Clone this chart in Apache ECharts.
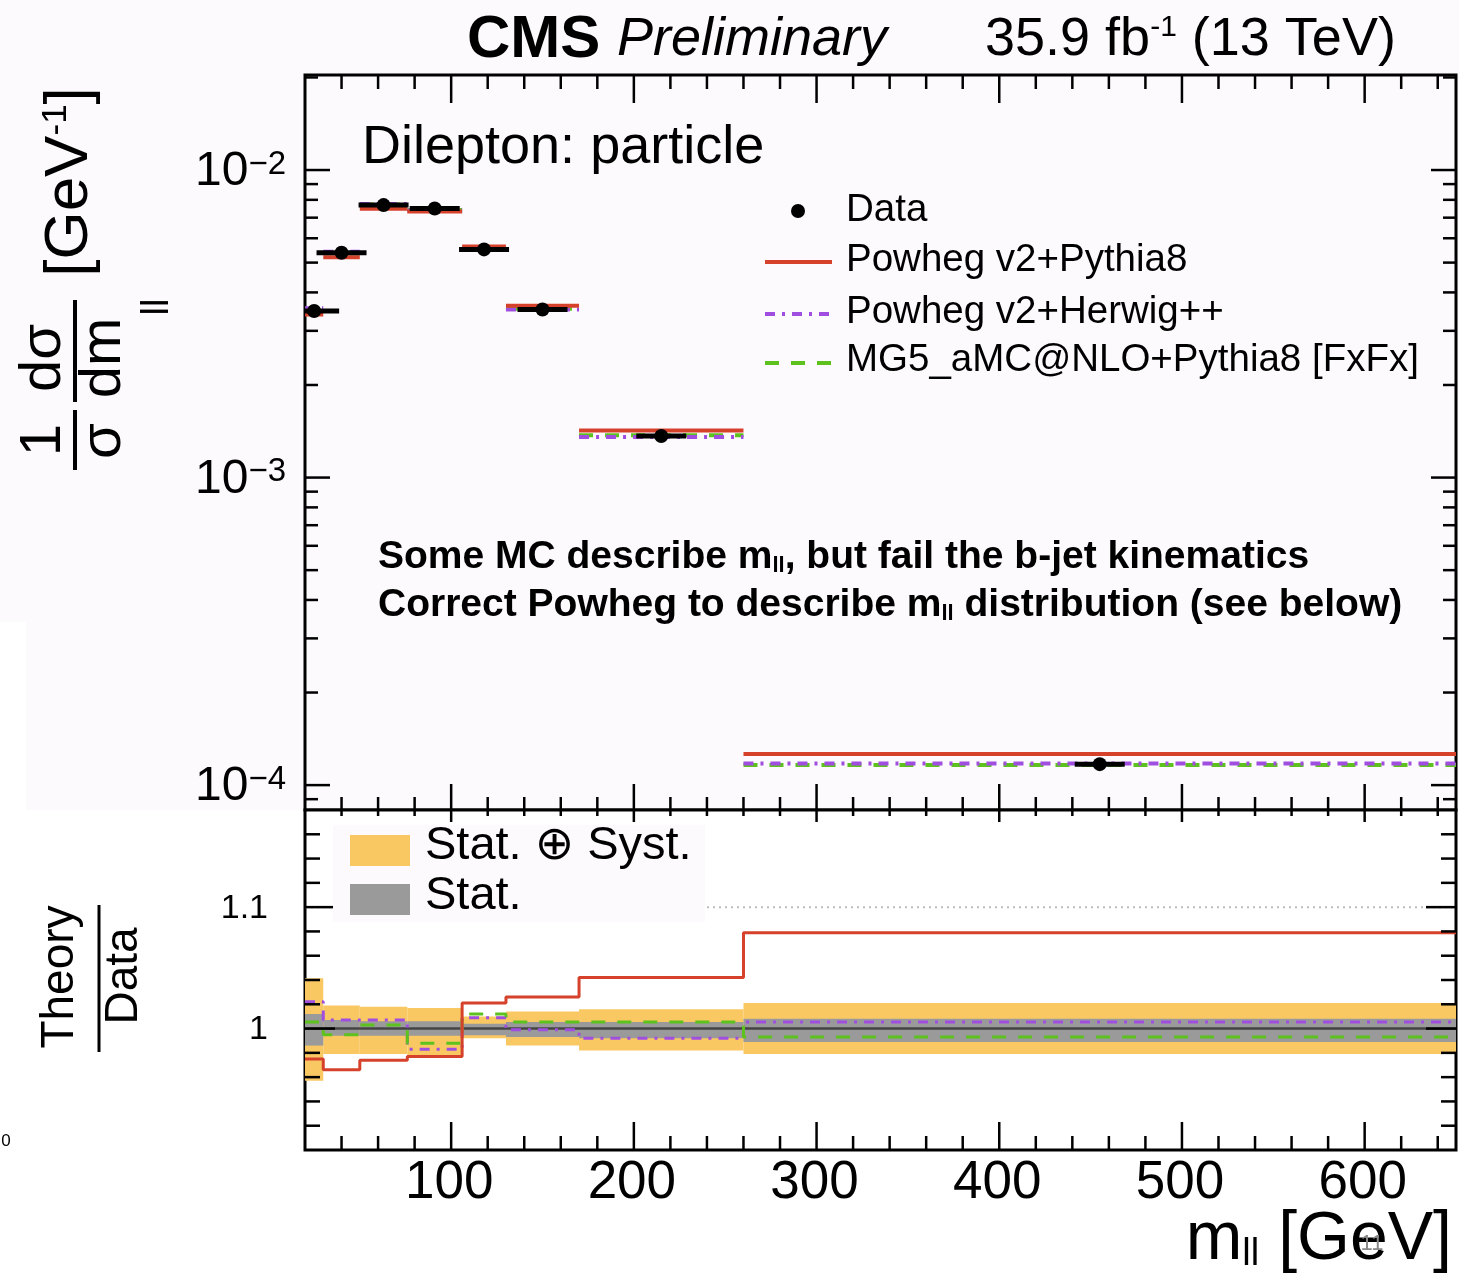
<!DOCTYPE html>
<html>
<head>
<meta charset="utf-8">
<script src="https://cdn.jsdelivr.net/npm/echarts@6/dist/echarts.min.js"></script>
<style>
html,body{margin:0;padding:0;background:#ffffff;}
#bg1{position:absolute;left:0;top:0;width:1459px;height:622px;background:#fcfafd;}
#bg2{position:absolute;left:26px;top:622px;width:1433px;height:188px;background:#fcfafd;}
#chart{position:absolute;left:0;top:0;width:1459px;height:1288px;}
</style>
</head>
<body>
<div id="bg1"></div><div id="bg2"></div>
<div id="chart"></div>
<script>
// ---------------- data ----------------
const binEdges = [20, 30, 50, 76, 106, 130, 170, 260, 650];
const dataValues = [0.00348, 0.00538, 0.00769, 0.00750, 0.00552, 0.00352, 0.001365, 0.000117];
const powhegPythiaValues = [0.00339, 0.00520, 0.00749, 0.00733, 0.00564, 0.00362, 0.001422, 0.0001262];
const powhegHerwigValues = [0.00355, 0.00542, 0.00775, 0.00738, 0.00557, 0.00352, 0.001354, 0.0001176];
const mg5Values = [0.00350, 0.00536, 0.00772, 0.00742, 0.00559, 0.00354, 0.001373, 0.0001162];

const powhegPythiaRatio = [0.975, 0.966, 0.974, 0.977, 1.021, 1.026, 1.042, 1.079];
const powhegHerwigRatio = [1.022, 1.007, 1.007, 0.983, 1.009, 0.999, 0.992, 1.0055];
const mg5Ratio = [1.0055, 0.995, 1.003, 0.988, 1.012, 1.0055, 1.0055, 0.993];
const totalUp = [1.0415, 1.019, 1.018, 1.017, 1.010, 1.014, 1.016, 1.021];
const totalDown = [0.957, 0.979, 0.979, 0.978, 0.992, 0.986, 0.982, 0.979];
const statUp = [1.012, 1.007, 1.006, 1.006, 1.004, 1.0055, 1.0055, 1.008];
const statDown = [0.986, 0.994, 0.994, 0.994, 0.9945, 0.993, 0.992, 0.989];

const xMajorTicks = [100, 200, 300, 400, 500, 600];
const xTickLabels = ['100', '200', '300', '400', '500', '600'];
const xMinorTicks = [40, 60, 80, 120, 140, 160, 180, 220, 240, 260, 280, 320, 340, 360, 380, 420, 440, 460, 480, 520, 540, 560, 580, 620, 640];
const yTopMajorTicks = [1e-4, 1e-3, 1e-2];
const yTopTickExponents = ['\u22124', '\u22123', '\u22122'];
const yTopMinorTicks = [9e-5, 2e-4, 3e-4, 4e-4, 5e-4, 6e-4, 7e-4, 8e-4, 9e-4, 2e-3, 3e-3, 4e-3, 5e-3, 6e-3, 7e-3, 8e-3, 9e-3, 2e-2];
const yRatioMajorTicks = [1.0, 1.1];
const yRatioTickLabels = ['1', '1.1'];
const yRatioMinorTicks = [0.92, 0.94, 0.96, 0.98, 1.02, 1.04, 1.06, 1.08, 1.12, 1.14, 1.16];

const xMin = 20, xMax = 650;
const topYMin = 8.3e-5, topYMax = 0.02037;
const ratioMin = 0.9, ratioMax = 1.18;

// ---------------- styles ----------------
const FONT = '"Liberation Sans", "DejaVu Sans", Arial, sans-serif';
const RED = '#d6412c', PURPLE = '#a04ee0', GREEN = '#5dc21e';
const ORANGE = '#f9c863', GRAY = '#9a9a9a';
const DASH_HERWIG = [10, 7, 3, 7];
const DASH_MG5 = [14, 12];

const hiddenAxis = {axisLine: {show: false}, axisTick: {show: false}, axisLabel: {show: false}, splitLine: {show: false}};

function topLine(vals, color, dash) {
  return {
    type: 'custom', xAxisIndex: 0, yAxisIndex: 0, clip: true, silent: true, z: 4,
    data: vals.map((v, i) => [binEdges[i], binEdges[i + 1], v]),
    encode: {x: [0, 1], y: 2},
    renderItem: (params, api) => {
      const a = api.coord([api.value(0), api.value(2)]);
      const b = api.coord([api.value(1), api.value(2)]);
      return {type: 'line', shape: {x1: a[0], y1: a[1], x2: b[0], y2: b[1]},
        style: {stroke: color, lineWidth: 4, lineDash: dash || null}};
    }
  };
}

function ratioLine(vals, color, dash) {
  return {
    type: 'line', xAxisIndex: 1, yAxisIndex: 1, step: 'end', symbol: 'none', silent: true, clip: true, z: 5,
    data: binEdges.map((e, i) => [e, vals[Math.min(i, vals.length - 1)]]),
    lineStyle: {color: color, width: 3, type: dash || 'solid'}
  };
}

function band(up, dn, color, z) {
  return {
    type: 'custom', xAxisIndex: 1, yAxisIndex: 1, clip: true, silent: true, z: z,
    data: up.map((u, i) => [binEdges[i], binEdges[i + 1], u, dn[i]]),
    encode: {x: [0, 1], y: [2, 3]},
    renderItem: (params, api) => {
      const p1 = api.coord([api.value(0), api.value(2)]);
      const p2 = api.coord([api.value(1), api.value(3)]);
      return {type: 'rect', shape: {x: p1[0], y: p1[1], width: p2[0] - p1[0], height: p2[1] - p1[1]},
        style: {fill: color}};
    }
  };
}

function xTicks(gi, yRef, vals, lenBottom, lenTop) {
  return {
    type: 'custom', xAxisIndex: gi, yAxisIndex: gi, silent: true, z: 20, clip: false,
    data: vals.map(v => [v, yRef]), encode: {x: 0, y: 1},
    renderItem: (params, api) => {
      const cs = params.coordSys;
      const x = api.coord([api.value(0), api.value(1)])[0];
      return {type: 'group', children: [
        {type: 'line', shape: {x1: x, y1: cs.y + cs.height, x2: x, y2: cs.y + cs.height - lenBottom}, style: {stroke: '#000', lineWidth: 2.5}},
        {type: 'line', shape: {x1: x, y1: cs.y, x2: x, y2: cs.y + lenTop}, style: {stroke: '#000', lineWidth: 2.5}}
      ]};
    }
  };
}

function yTicks(gi, vals, len) {
  return {
    type: 'custom', xAxisIndex: gi, yAxisIndex: gi, silent: true, z: 20, clip: false,
    data: vals.map(v => [xMin, v]), encode: {x: 0, y: 1},
    renderItem: (params, api) => {
      const cs = params.coordSys;
      const y = api.coord([api.value(0), api.value(1)])[1];
      return {type: 'group', children: [
        {type: 'line', shape: {x1: cs.x, y1: y, x2: cs.x + len, y2: y}, style: {stroke: '#000', lineWidth: 2.5}},
        {type: 'line', shape: {x1: cs.x + cs.width, y1: y, x2: cs.x + cs.width - len, y2: y}, style: {stroke: '#000', lineWidth: 2.5}}
      ]};
    }
  };
}

function txt(x, y, text, size, opts) {
  opts = opts || {};
  return {
    type: 'text', x: x, y: y, z: 100, rotation: opts.rotation || 0,
    style: {
      text: text, fontSize: size, fontFamily: FONT, fontWeight: opts.weight || 'normal', fontStyle: opts.style || 'normal',
      fill: opts.fill || '#000',
      align: opts.align || 'left', textAlign: opts.align || 'left',
      verticalAlign: 'middle', textVerticalAlign: 'middle',
      rich: opts.rich
    }
  };
}

const series = [
  // ---- top panel ----
  topLine(mg5Values, GREEN, DASH_MG5),
  topLine(powhegHerwigValues, PURPLE, DASH_HERWIG),
  topLine(powhegPythiaValues, RED, null),
  {
    type: 'custom', xAxisIndex: 0, yAxisIndex: 0, clip: true, silent: true, z: 6,
    data: dataValues.map((v, i) => [(binEdges[i] + binEdges[i + 1]) / 2, v]),
    encode: {x: 0, y: 1},
    renderItem: (params, api) => {
      const c = api.coord([api.value(0), api.value(1)]);
      return {type: 'group', children: [
        {type: 'line', shape: {x1: c[0] - 25, y1: c[1], x2: c[0] + 25, y2: c[1]}, style: {stroke: '#000', lineWidth: 5}},
        {type: 'circle', shape: {cx: c[0], cy: c[1], r: 7}, style: {fill: '#000'}}
      ]};
    }
  },
  // ---- ratio panel ----
  {type: 'line', xAxisIndex: 1, yAxisIndex: 1, symbol: 'none', silent: true, z: 1,
    data: [[xMin, 1.1], [xMax, 1.1]], lineStyle: {color: '#bdbdbd', width: 2, type: [2, 4]}},
  band(totalUp, totalDown, ORANGE, 2),
  band(statUp, statDown, GRAY, 3),
  {type: 'line', xAxisIndex: 1, yAxisIndex: 1, symbol: 'none', silent: true, z: 4,
    data: [[xMin, 1], [xMax, 1]], lineStyle: {color: '#444', width: 2.5}},
  ratioLine(powhegHerwigRatio, PURPLE, DASH_HERWIG),
  ratioLine(mg5Ratio, GREEN, DASH_MG5),
  ratioLine(powhegPythiaRatio, RED, null),
  // ---- ticks ----
  xTicks(0, topYMin, xMajorTicks, 26, 28),
  xTicks(0, topYMin, xMinorTicks, 13, 14),
  xTicks(1, ratioMin, xMajorTicks, 28, 12),
  xTicks(1, ratioMin, xMinorTicks, 14, 6),
  yTicks(0, yTopMajorTicks, 25),
  yTicks(0, yTopMinorTicks, 13),
  yTicks(1, yRatioMajorTicks, 30),
  yTicks(1, yRatioMinorTicks, 15),
  // ---- tick labels ----
  {
    type: 'custom', xAxisIndex: 1, yAxisIndex: 1, silent: true, clip: false, z: 20,
    data: xMajorTicks.map(v => [v, ratioMin]), encode: {x: 0, y: 1},
    renderItem: (params, api) => {
      const cs = params.coordSys;
      const x = api.coord([api.value(0), api.value(1)])[0];
      return {type: 'text', x: x - 2, y: cs.y + cs.height + 33,
        style: {text: xTickLabels[params.dataIndex], fontSize: 53, fontFamily: FONT, fill: '#000',
          align: 'center', verticalAlign: 'middle'}};
    }
  },
  {
    type: 'custom', xAxisIndex: 0, yAxisIndex: 0, silent: true, clip: false, z: 20,
    data: yTopMajorTicks.map(v => [xMin, v]), encode: {x: 0, y: 1},
    renderItem: (params, api) => {
      const cs = params.coordSys;
      const y = api.coord([api.value(0), api.value(1)])[1];
      return {type: 'text', x: cs.x - 19, y: y + 2,
        style: {text: '{a|10}{b|' + yTopTickExponents[params.dataIndex] + '}', fill: '#000',
          align: 'right', verticalAlign: 'middle',
          rich: {a: {fontSize: 48, fontFamily: FONT, fill: '#000', lineHeight: 48},
                 b: {fontSize: 33, fontFamily: FONT, fill: '#000', lineHeight: 22, verticalAlign: 'top'}}}};
    }
  },
  {
    type: 'custom', xAxisIndex: 1, yAxisIndex: 1, silent: true, clip: false, z: 20,
    data: yRatioMajorTicks.map(v => [xMin, v]), encode: {x: 0, y: 1},
    renderItem: (params, api) => {
      const cs = params.coordSys;
      const y = api.coord([api.value(0), api.value(1)])[1];
      return {type: 'text', x: cs.x - 37, y: y + 1,
        style: {text: yRatioTickLabels[params.dataIndex], fontSize: 34, fontFamily: FONT, fill: '#000',
          align: 'right', verticalAlign: 'middle'}};
    }
  }
];

const graphics = [
  // header
  txt(467, 40, '{b|CMS }{i|Preliminary}', 56, {rich: {
    b: {fontSize: 60, fontWeight: 'bold', fontFamily: FONT, fill: '#000'},
    i: {fontSize: 54, fontStyle: 'italic', fontFamily: FONT, fill: '#000'}}}),
  txt(985, 40, '{a|35.9 fb}{s|-1}{a| (13 TeV)}', 54, {rich: {
    a: {fontSize: 54, fontFamily: FONT, fill: '#000', lineHeight: 54},
    s: {fontSize: 30, fontFamily: FONT, fill: '#000', lineHeight: 24, verticalAlign: 'top'}}}),
  // panel label
  txt(362, 148, 'Dilepton: particle', 54),
  // legend
  {type: 'circle', z: 100, shape: {cx: 798, cy: 211, r: 7}, style: {fill: '#000'}},
  txt(846, 210, 'Data', 38.5),
  {type: 'line', z: 100, shape: {x1: 765, y1: 262, x2: 832, y2: 262}, style: {stroke: RED, lineWidth: 4}},
  txt(846, 260, 'Powheg v2+Pythia8', 38.5),
  {type: 'line', z: 100, shape: {x1: 765, y1: 314, x2: 832, y2: 314}, style: {stroke: PURPLE, lineWidth: 4, lineDash: DASH_HERWIG}},
  txt(846, 312, 'Powheg v2+Herwig++', 38.5),
  {type: 'line', z: 100, shape: {x1: 765, y1: 363, x2: 832, y2: 363}, style: {stroke: GREEN, lineWidth: 4, lineDash: DASH_MG5}},
  txt(846, 360, 'MG5_aMC@NLO+Pythia8 [FxFx]', 38.5),
  // annotation
  txt(378, 557, '{a|Some MC describe m}{s|ll}{a|, but fail the b-jet kinematics}', 39, {rich: {
    a: {fontSize: 39, fontWeight: 'bold', fontFamily: FONT, fill: '#000', lineHeight: 40},
    s: {fontSize: 22, fontWeight: 'bold', fontFamily: FONT, fill: '#000', lineHeight: 10, verticalAlign: 'bottom'}}}),
  txt(378, 605, '{a|Correct Powheg to describe m}{s|ll}{a| distribution (see below)}', 39, {rich: {
    a: {fontSize: 39, fontWeight: 'bold', fontFamily: FONT, fill: '#000', lineHeight: 40},
    s: {fontSize: 22, fontWeight: 'bold', fontFamily: FONT, fill: '#000', lineHeight: 10, verticalAlign: 'bottom'}}}),
  // ratio legend
  {type: 'rect', z: 90, shape: {x: 333, y: 825, width: 372, height: 97}, style: {fill: '#fcfafd'}},
  {type: 'rect', z: 100, shape: {x: 350, y: 835, width: 60, height: 31}, style: {fill: ORANGE}},
  {type: 'rect', z: 100, shape: {x: 350, y: 884, width: 60, height: 31}, style: {fill: GRAY}},
  txt(425, 846, 'Stat. \u2295 Syst.', 47),
  txt(425, 896, 'Stat.', 47),
  // y title (top)
  txt(44, 440, '1', 58, {rotation: Math.PI / 2, align: 'center'}),
  {type: 'line', z: 100, shape: {x1: 75, y1: 410, x2: 75, y2: 470}, style: {stroke: '#000', lineWidth: 4}},
  txt(104, 441, '\u03c3', 58, {rotation: Math.PI / 2, align: 'center'}),
  txt(44, 358, 'd\u03c3', 58, {rotation: Math.PI / 2, align: 'center'}),
  {type: 'line', z: 100, shape: {x1: 75, y1: 300, x2: 75, y2: 402}, style: {stroke: '#000', lineWidth: 4}},
  txt(104, 358, 'dm', 58, {rotation: Math.PI / 2, align: 'center'}),
  txt(158, 307, 'll', 38, {rotation: Math.PI / 2, align: 'center'}),
  txt(70, 182, '{m|[GeV}{s|-1}{m|]}', 62, {rotation: Math.PI / 2, align: 'center', rich: {
    m: {fontSize: 62, fontFamily: FONT, fill: '#000', lineHeight: 62},
    s: {fontSize: 35, fontFamily: FONT, fill: '#000', lineHeight: 26, verticalAlign: 'top'}}}),
  // y title (ratio)
  txt(60, 977, 'Theory', 46, {rotation: Math.PI / 2, align: 'center'}),
  {type: 'line', z: 100, shape: {x1: 99, y1: 905, x2: 99, y2: 1052}, style: {stroke: '#000', lineWidth: 3}},
  txt(124, 976, 'Data', 46, {rotation: Math.PI / 2, align: 'center'}),
  // x title
  txt(1452, 1240, '{m|m}{s|ll}{m| [GeV]}', 68, {align: 'right', rich: {
    m: {fontSize: 68, fontFamily: FONT, fill: '#000', lineHeight: 68},
    s: {fontSize: 38, fontFamily: FONT, fill: '#000', lineHeight: 14, verticalAlign: 'bottom'}}}),
  // stray marks present in the original picture
  txt(1372, 1244, '11', 22, {fill: '#8a8a8a', align: 'center'}),
  txt(6, 1141, '0', 17, {align: 'center'})
];

const chart = echarts.init(document.getElementById('chart'), null, {renderer: 'canvas'});
chart.setOption({
  animation: false,
  grid: [
    {left: 305, top: 75, width: 1151, height: 735, show: true, borderColor: '#000', borderWidth: 3, backgroundColor: '#fcfafd'},
    {left: 305, top: 810, width: 1151, height: 340, show: true, borderColor: '#000', borderWidth: 3, backgroundColor: '#ffffff'}
  ],
  xAxis: [
    Object.assign({type: 'value', gridIndex: 0, min: xMin, max: xMax}, hiddenAxis),
    Object.assign({type: 'value', gridIndex: 1, min: xMin, max: xMax}, hiddenAxis)
  ],
  yAxis: [
    Object.assign({type: 'log', logBase: 10, gridIndex: 0, min: topYMin, max: topYMax}, hiddenAxis),
    Object.assign({type: 'value', gridIndex: 1, min: ratioMin, max: ratioMax}, hiddenAxis)
  ],
  series: series,
  graphic: {elements: graphics}
});
</script>
</body>
</html>
